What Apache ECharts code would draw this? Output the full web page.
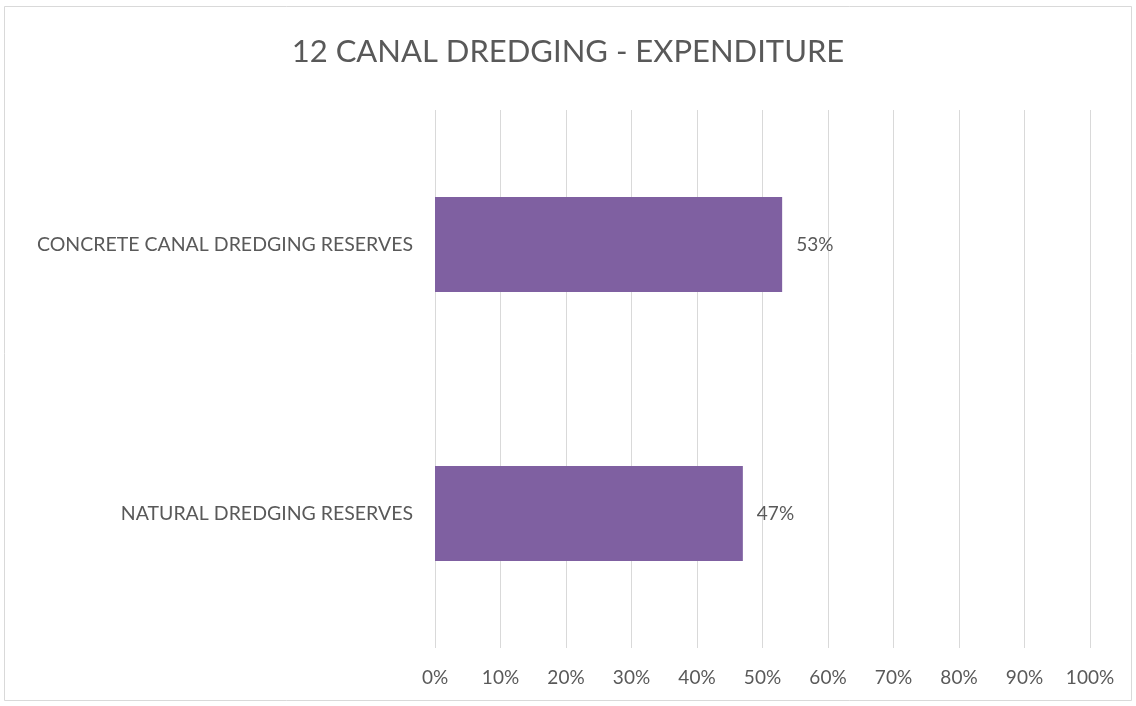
<!DOCTYPE html>
<html><head><meta charset="utf-8">
<script src="https://cdn.jsdelivr.net/npm/echarts@6/dist/echarts.min.js"></script>
<style>html,body{margin:0;padding:0;background:#fff}#c{width:1136px;height:706px}</style>
</head><body><div id="c"></div>
<script>
const title = '12 CANAL DREDGING - EXPENDITURE';
const categories = ['NATURAL DREDGING RESERVES', 'CONCRETE CANAL DREDGING RESERVES'];
const values = [47, 53];
const xTicks = [0,10,20,30,40,50,60,70,80,90,100];

const chart = echarts.init(document.getElementById('c'));
const font = 'Lato, "Open Sans", sans-serif';
chart.setOption({
  backgroundColor: '#fff',
  animation: false,
  graphic: [{type:'rect', shape:{x:4.5,y:6.5,width:1127,height:694}, style:{fill:'none', stroke:'#d9d9d9', lineWidth:1}, z:-1}],
  title: {text: title, left: 'center', top: 31, textStyle:{fontFamily: font, fontSize: 31, fontWeight:'normal', color:'#595959'}},
  grid: {left: 435, right: 46, top: 110, bottom: 58},
  xAxis: {type:'value', min:0, max:100, interval:10,
    axisLine:{show:false}, axisTick:{show:false},
    splitLine:{lineStyle:{color:'#d9d9d9', width:1}},
    axisLabel:{formatter: v => v + '%', fontFamily: font, fontSize: 19, color:'#595959', margin: 20}},
  yAxis: {type:'category', data: categories,
    axisLine:{show:false}, axisTick:{show:false},
    axisLabel:{fontFamily: font, fontSize: 19.5, color:'#595959', margin: 22}},
  series: [{type:'bar', data: values, barWidth: 95,
    itemStyle:{color:'#7F60A1'},
    label:{show:true, position:'right', distance:14, formatter: p => p.value + '%', fontFamily: font, fontSize: 19, color:'#595959'}}]
});
</script></body></html>
